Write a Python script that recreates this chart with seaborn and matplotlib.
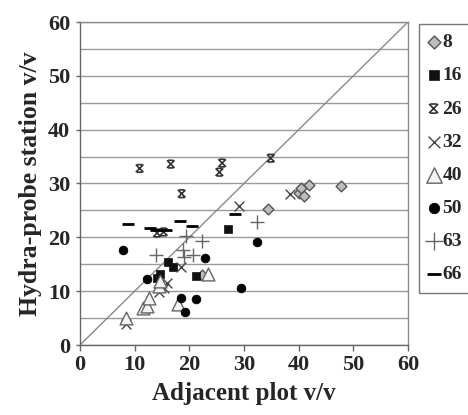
import matplotlib
matplotlib.use("Agg")
import matplotlib.pyplot as plt
import seaborn as sns
import numpy as np
from matplotlib.path import Path
from matplotlib.markers import MarkerStyle

# ---- data ----
s8_x = [22.4, 34.3, 40.1, 40.5, 41.0, 41.9, 47.7]
s8_y = [13.0, 25.3, 28.2, 29.1, 27.6, 29.8, 29.6]

s16_x = [14.1, 14.7, 16.1, 17.0, 21.2, 27.1]
s16_y = [12.4, 13.2, 15.5, 14.4, 12.8, 21.5]

s26_x = [10.9, 16.6, 18.6, 26.0, 25.5, 34.9, 14.1, 15.3]
s26_y = [32.8, 33.6, 28.1, 33.8, 32.1, 34.7, 20.8, 21.0]

s32_x = [8.4, 14.4, 15.3, 15.9, 18.5, 29.0, 38.5]
s32_y = [3.9, 9.8, 10.6, 11.6, 14.5, 25.9, 28.0]

s40_x = [8.5, 11.6, 12.3, 12.7, 14.4, 14.7, 17.9, 23.4]
s40_y = [5.0, 6.9, 7.2, 8.8, 11.0, 11.8, 7.7, 13.2]

s50_x = [7.8, 12.2, 18.4, 19.2, 21.2, 22.9, 29.5, 32.4]
s50_y = [17.6, 12.2, 8.7, 6.1, 8.6, 16.2, 10.6, 19.1]

s63_x = [13.9, 18.9, 19.0, 19.4, 20.7, 22.3, 32.3]
s63_y = [16.7, 17.6, 16.4, 20.2, 16.7, 19.3, 22.8]

s66_x = [8.8, 12.8, 13.9, 15.7, 18.3, 20.4, 28.4]
s66_y = [22.4, 21.8, 21.4, 21.4, 23.0, 22.1, 24.4]

series_names = ["8", "16", "26", "32", "40", "50", "63", "66"]
x_ticks = [0, 10, 20, 30, 40, 50, 60]
y_ticks = [0, 10, 20, 30, 40, 50, 60]

# ---- styling ----
sns.set_theme(style="white")
plt.rcParams["font.family"] = ["Liberation Serif", "DejaVu Serif"]
plt.rcParams["font.weight"] = "bold"

star_path = Path([(-1, -1), (1, 1), (-1, 1), (1, -1), (-0.7, -1), (0.7, -1), (-0.7, 1), (0.7, 1)],
                 [Path.MOVETO, Path.LINETO, Path.MOVETO, Path.LINETO,
                  Path.MOVETO, Path.LINETO, Path.MOVETO, Path.LINETO])
star_marker = MarkerStyle(star_path, fillstyle="none")

fig = plt.figure(figsize=(4.68, 4.15), dpi=100)
ax = fig.add_axes([80 / 468, 1 - 345 / 415, 328 / 468, 323 / 415])

ax.plot([0, 60], [0, 60], color="#8a8a8a", lw=1.0, zorder=1)

datasets = [
    (s8_x, s8_y, dict(marker="D", s=30, facecolor="#bdbdbd", edgecolor="#555555", linewidth=1.0)),
    (s16_x, s16_y, dict(marker="s", s=40, color="#111111", edgecolor="#111111", linewidth=0.5)),
    (s26_x, s26_y, dict(marker=star_marker, s=30, color="#333333", linewidth=1.2)),
    (s32_x, s32_y, dict(marker="x", s=50, color="#444444", linewidth=1.0)),
    (s40_x, s40_y, dict(marker="^", s=85, facecolor="#f4f4f4", edgecolor="#666666", linewidth=1.0)),
    (s50_x, s50_y, dict(marker="o", s=40, color="#000000", edgecolor="#000000", linewidth=0.5)),
    (s63_x, s63_y, dict(marker="+", s=110, color="#666666", linewidth=1.0)),
    (s66_x, s66_y, dict(marker="_", s=80, color="#000000", linewidth=2.0)),
]

for (xs, ys, kw), name in zip(datasets, series_names):
    sns.scatterplot(x=xs, y=ys, ax=ax, label=name, zorder=3, clip_on=False, **kw)

ax.set_xlim(0, 60)
ax.set_ylim(0, 60)
ax.set_xticks(x_ticks)
ax.set_yticks(y_ticks)
ax.set_yticks(np.arange(5, 60, 10), minor=True)
ax.grid(False)
ax.yaxis.grid(True, which="both", color="#9a9a9a", lw=1.0)
ax.set_axisbelow(True)
for sp in ax.spines.values():
    sp.set_color("#8a8a8a")
    sp.set_linewidth(1.0)
ax.spines["left"].set_color("#666666")
ax.spines["bottom"].set_color("#666666")
ax.tick_params(axis="x", which="major", length=4, width=1, color="#666666",
               labelsize=16, pad=3, bottom=True)
ax.tick_params(axis="y", which="major", length=3, width=1, color="#666666",
               labelsize=16, pad=4, left=True)
ax.tick_params(axis="y", which="minor", length=0)
for lab in ax.get_xticklabels() + ax.get_yticklabels():
    lab.set_fontweight("bold")

ax.set_xlabel("Adjacent plot v/v", fontsize=18, fontweight="bold", labelpad=5)
ax.set_ylabel("Hydra-probe station v/v", fontsize=18.5, fontweight="bold", labelpad=4)

leg = ax.legend(loc="upper left", bbox_to_anchor=(419 / 468, 1 - 24 / 415),
                bbox_transform=fig.transFigure, frameon=True, fancybox=False,
                prop={"family": "Liberation Serif", "weight": "bold", "size": 14},
                labelspacing=0.8, handlelength=0.5, handletextpad=0.2,
                borderpad=0.5, borderaxespad=0, markerscale=1.2)
leg.get_frame().set_edgecolor("#555555")
leg.get_frame().set_linewidth(1.0)

fig.savefig("out.png", dpi=100)
